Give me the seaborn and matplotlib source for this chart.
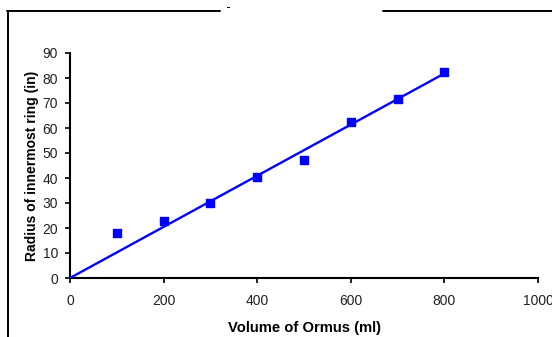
import numpy as np
import pandas as pd
import matplotlib
matplotlib.use("Agg")
import matplotlib.pyplot as plt
from matplotlib.lines import Line2D
import seaborn as sns

# Data
volume_ml = [100, 200, 300, 400, 500, 600, 700, 800]
radius_in = [18, 22.8, 30, 40.3, 47.2, 62.5, 71.5, 82.5]
x_ticks = [0, 200, 400, 600, 800, 1000]
y_ticks = [0, 10, 20, 30, 40, 50, 60, 70, 80, 90]
x_label = "Volume of Ormus (ml)"
y_label = "Radius of innermost ring (in)"

sns.set_theme(style="white")
plt.rcParams['font.family'] = ['Liberation Sans', 'DejaVu Sans']

W, H = 552, 337
fig = plt.figure(figsize=(W / 100, H / 100), dpi=100)
ax = fig.add_axes([70 / W, 1 - 278 / H, (538 - 70) / W, (278 - 53) / H])

df = pd.DataFrame({"x": volume_ml, "y": radius_in})

# linear trendline through origin (least squares)
x = np.array(volume_ml, dtype=float)
y = np.array(radius_in, dtype=float)
slope = (x * y).sum() / (x * x).sum()
trend = pd.DataFrame({"x": [0, x.max()], "y": [0, slope * x.max()]})

sns.lineplot(data=trend, x="x", y="y", ax=ax, color="#0000FF", lw=1.7, zorder=3)
sns.scatterplot(data=df, x="x", y="y", ax=ax, marker="s", s=26,
                facecolor="#0000FF", edgecolor="#0000FF", linewidth=1.0, zorder=4)

ax.set_xlim(0, 1000)
ax.set_ylim(0, 90)
ax.set_xticks(x_ticks)
ax.set_yticks(y_ticks)
ax.set_xticklabels([str(t) for t in x_ticks], fontsize=10, color="#222222")
ax.set_yticklabels([str(t) for t in y_ticks], fontsize=10, color="#222222")
ax.set_xlabel(x_label, fontsize=10.6, fontweight="bold", labelpad=9.5, color="black")
ax.set_ylabel(y_label, fontsize=10, fontweight="bold", labelpad=2.5, color="black")

for side in ["top", "right"]:
    ax.spines[side].set_visible(False)
for side in ["left", "bottom"]:
    ax.spines[side].set_color("black")
    ax.spines[side].set_linewidth(1.5)
ax.tick_params(axis="x", direction="out", length=3.5, width=1.2, color="black",
               bottom=True, pad=8)
ax.tick_params(axis="y", direction="out", length=3.5, width=1.2, color="black",
               left=True, pad=5)
ax.set_facecolor("white")
ax.grid(False)

# frame decoration
def fl(x0, y0, x1, y1, lw=1.4):
    fig.add_artist(Line2D([x0 / W, x1 / W], [1 - y0 / H, 1 - y1 / H],
                          transform=fig.transFigure, color="black", lw=lw))

fl(7, 11, 220, 11)
fl(383, 11, 552, 11)
fl(7.5, 11, 7.5, 337)
fl(227, 7, 229, 7, lw=0.8)

fig.savefig("out.png", dpi=100, facecolor="white")
